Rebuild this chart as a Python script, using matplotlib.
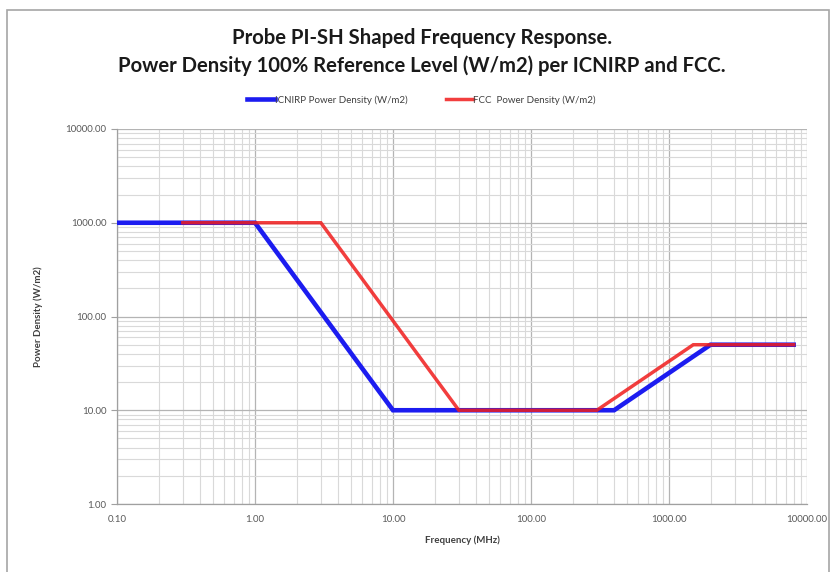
import numpy as np
import matplotlib.pyplot as plt
from matplotlib.patches import Rectangle
from matplotlib.ticker import FixedLocator, LogLocator, NullFormatter

plt.rcParams['font.family'] = ['Lato', 'DejaVu Sans']

## data
icnirp_freq = [0.1, 1, 10, 400, 2000, 8000]
icnirp_pd = [1000, 1000, 10, 10, 50, 50]
fcc_freq = [0.3, 3, 30, 300, 1500, 8000]
fcc_pd = [1000, 1000, 10, 10, 50, 50]

x_ticks = [0.1, 1, 10, 100, 1000, 10000]
y_ticks = [1, 10, 100, 1000, 10000]

title = 'Probe PI-SH Shaped Frequency Response.\nPower Density 100% Reference Level (W/m2) per ICNIRP and FCC.'

fig = plt.figure(figsize=(8.35, 5.72), dpi=100)
# chart area border
fig.patches.append(Rectangle((7 / 835, -0.1), 822 / 835, 1.1 - 10 / 572, transform=fig.transFigure,
                             fill=False, edgecolor='#a6a6a6', lw=1.2))

ax = fig.add_axes([117 / 835, 1 - 504 / 572, 690 / 835, 375 / 572])
ax.plot(icnirp_freq, icnirp_pd, color='#1c1cf0', lw=3.3, label='ICNIRP Power Density (W/m2)',
        solid_joinstyle='miter', zorder=3)
ax.plot(fcc_freq, fcc_pd, color='#f01c1c', lw=2.5, alpha=0.85, label='FCC  Power Density (W/m2)',
        solid_joinstyle='miter', zorder=4)

ax.set_xscale('log')
ax.set_yscale('log')
ax.set_xlim(0.1, 10000)
ax.set_ylim(1, 10000)

ax.xaxis.set_major_locator(FixedLocator(x_ticks))
ax.yaxis.set_major_locator(FixedLocator(y_ticks))
ax.xaxis.set_minor_locator(LogLocator(base=10, subs=np.arange(2, 10), numticks=20))
ax.yaxis.set_minor_locator(LogLocator(base=10, subs=np.arange(2, 10), numticks=20))
ax.xaxis.set_minor_formatter(NullFormatter())
ax.yaxis.set_minor_formatter(NullFormatter())
ax.set_xticklabels(['%.2f' % v for v in x_ticks])
ax.set_yticklabels(['%.2f' % v for v in y_ticks])

ax.grid(which='major', color='#b4b4b4', lw=0.9)
ax.grid(which='minor', color='#d9d9d9', lw=0.8)
ax.set_axisbelow(True)
for s in ['top', 'right']:
    ax.spines[s].set_visible(False)
for s in ['left', 'bottom']:
    ax.spines[s].set_color('#a0a0a0')
    ax.spines[s].set_linewidth(0.9)
ax.tick_params(which='major', length=4, width=0.8, color='#a0a0a0', labelsize=7, labelcolor='#595959')
ax.tick_params(axis='x', which='major', length=0, pad=8)
ax.tick_params(which='minor', length=0)

ax.set_xlabel('Frequency (MHz)', fontsize=7, fontweight='bold', color='#404040', labelpad=8)
ax.set_ylabel('Power Density (W/m2)', fontsize=7, fontweight='bold', color='#404040', labelpad=16)

fig.text(0.505, 1 - 52 / 572, title, ha='center', va='center', fontsize=14.6, fontweight='bold',
         color='#1a1a1a', linespacing=1.45)

fig.legend(loc='center', bbox_to_anchor=(0.505, 1 - 100 / 572), ncol=2, frameon=False, fontsize=7,
           handlelength=2.8, handletextpad=0.0, columnspacing=4.0, labelcolor='#404040')

fig.savefig('out.png', dpi=100)
